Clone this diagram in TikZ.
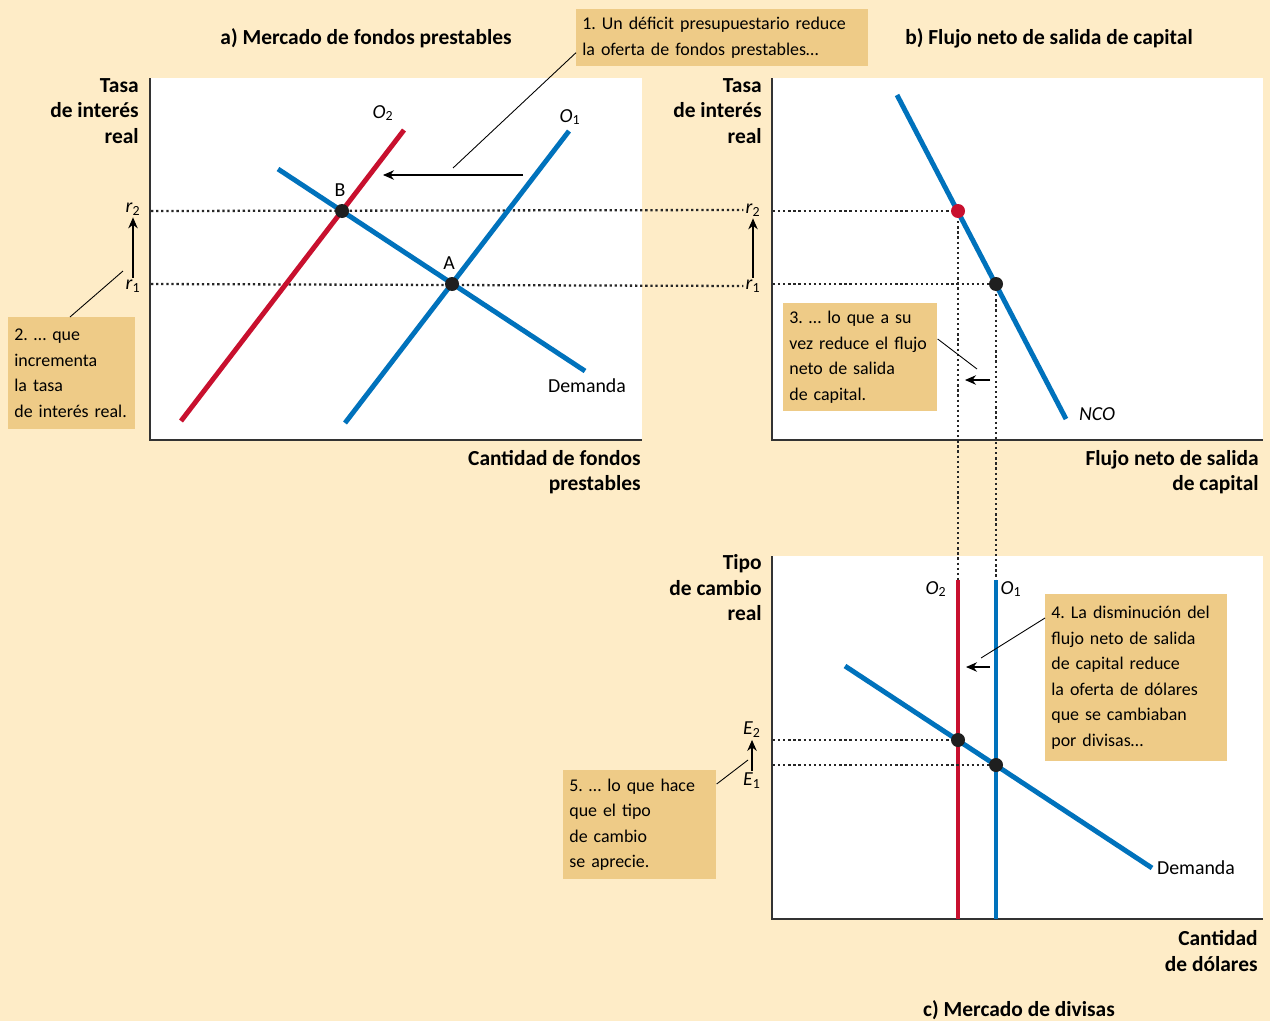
\documentclass[tikz,border=0pt]{standalone}
\usepackage{fontspec}
\setmainfont{Carlito}
\frenchspacing
\usetikzlibrary{arrows.meta,positioning,calc}

\definecolor{bgcream}{RGB}{254,236,199}
\definecolor{boxtan}{RGB}{238,203,135}
\definecolor{nblue}{RGB}{0,114,188}
\definecolor{nred}{RGB}{200,16,46}

\tikzset{
    curveblue/.style={draw=nblue, line width=2.8pt},
    curvered/.style={draw=nred, line width=2.8pt},
    axisline/.style={draw=black!80, line width=0.8pt},
    guide/.style={draw=black!85, line width=1.3pt, dash pattern=on 1.3pt off 1.6pt},
    leader/.style={draw=black, line width=0.5pt},
    shiftarrow/.style={->, draw=black, line width=0.6pt},
    eqdot/.style={circle, fill=black!88, inner sep=0pt, minimum size=0.28cm},
    reddot/.style={circle, fill=nred, inner sep=0pt, minimum size=0.28cm},
    callout/.style={fill=boxtan, anchor=north west, align=left, inner xsep=0.12cm},
    axislabel/.style={font=\fontsize{12.2}{14.5}\selectfont\bfseries, align=right, inner sep=0pt},
    paneltitle/.style={font=\fontsize{12.2}{14.5}\selectfont\bfseries, inner sep=0pt},
    curvelabel/.style={font=\fontsize{11.3}{14}\selectfont, inner sep=1pt}
}

\begin{document}
\begin{tikzpicture}[x=0.02cm, y=-0.02cm, font=\fontsize{10.2}{14.5}\selectfont, >={Stealth[length=2.2mm, width=1.9mm]}]
\useasboundingbox (0,0) rectangle (1270,1021);
\fill[bgcream] (0,0) rectangle (1270,1021);
% Plot areas.
\fill[white] (151,78) rectangle (642,440);
\fill[white] (773,78) rectangle (1263,440);
\fill[white] (773,556) rectangle (1263,919);
\draw[axisline] (150,78) -- (150,440) -- (642,440);
\draw[axisline] (772,78) -- (772,440) -- (1263,440);
\draw[axisline] (772,556) -- (772,919) -- (1263,919);

% Titles and axis labels.
\node[paneltitle] (ta) at (366,38) {a) Mercado de fondos prestables};
\node[paneltitle] (tb) at (1049,38) {b) Flujo neto de salida de capital};
\node[paneltitle] (tc) at (1019,1010) {c) Mercado de divisas};
\node[axislabel, anchor=east] (ya) at (139,111) {Tasa\\de interés\\real};
\node[axislabel, anchor=east] (xa) at (641,472) {Cantidad de fondos\\prestables};
\node[axislabel, anchor=east] (yb) at (762,111) {Tasa\\de interés\\real};
\node[axislabel, anchor=east] (xb) at (1259,472) {Flujo neto de salida\\de capital};
\node[axislabel, anchor=east] (yc) at (762,588) {Tipo\\de cambio\\real};
\node[axislabel, anchor=east] (xc) at (1258,951) {Cantidad\\de dólares};

% Panel a: loanable funds.
\coordinate (O2s) at (181,421);
\coordinate (O2e) at (404,130);
\coordinate (O1s) at (345,423);
\coordinate (O1e) at (569,131);
\coordinate (Ds) at (278,169);
\coordinate (De) at (585,371);
\node[curvelabel] (r2a) at (133,209) {\textit{r}\textsubscript{2}};
\node[curvelabel] (r1a) at (133,286) {\textit{r}\textsubscript{1}};
\node[curvelabel] (r2b) at (753,210) {\textit{r}\textsubscript{2}};
\node[curvelabel] (r1b) at (753,286) {\textit{r}\textsubscript{1}};
\coordinate (ya2) at (151,211);
\coordinate (ya1) at (151,284);
\draw[guide] (ya2) -- (r2b.west);
\draw[guide] (ya1) -- (r1b.west);
\draw[curvered] (O2s) -- (O2e);
\draw[curveblue] (O1s) -- (O1e);
\draw[curveblue] (Ds) -- (De);
\node[eqdot] (B) at (342,211) {};
\node[eqdot] (A) at (452,284) {};
\node[curvelabel] (lB) at (340,190) {B};
\node[curvelabel] (lA) at (449,263) {A};
\node[curvelabel] (lO2a) at (383,113) {\textit{O}\textsubscript{2}};
\node[curvelabel] (lO1a) at (570,117) {\textit{O}\textsubscript{1}};
\node[curvelabel] (lDa) at (587,386) {Demanda};
\coordinate (sa1) at (523,175);
\coordinate (sa2) at (383,175);
\draw[shiftarrow] (sa1) -- (sa2);
\draw[shiftarrow] (r1a.north) -- (r2a.south);

% Panel b: net capital outflow.
\coordinate (Ns) at (897,95);
\coordinate (Ne) at (1066,419);
\coordinate (yb2) at (773,211);
\coordinate (yb1) at (773,284);
\coordinate (O2ct) at (958,580);
\coordinate (O2cb) at (958,919);
\coordinate (O1ct) at (996,580);
\coordinate (O1cb) at (996,919);
\coordinate (P2) at (958,211);
\coordinate (P1) at (996,284);
\draw[guide] (yb2) -- (P2);
\draw[guide] (yb1) -- (P1);
\draw[guide] (P2) -- (O2ct);
\draw[guide] (P1) -- (O1ct);
\draw[curveblue] (Ns) -- (Ne);
\node[reddot] (dP2) at (P2) {};
\node[eqdot] (dP1) at (P1) {};
\node[curvelabel] (lN) at (1097,414) {\textit{NCO}};
\coordinate (sb1) at (990,380);
\coordinate (sb2) at (965,380);
\draw[shiftarrow] (sb1) -- (sb2);
\draw[shiftarrow] (r1b.north) -- (r2b.south);

% Panel c: foreign-currency exchange.
\coordinate (Dcs) at (845,666);
\coordinate (Dce) at (1152,868);
\coordinate (yc2) at (773,740);
\coordinate (yc1) at (773,765);
\node[curvelabel] (E2) at (752,730) {\textit{E}\textsubscript{2}};
\node[curvelabel] (E1) at (752,781) {\textit{E}\textsubscript{1}};
\draw[curvered] (O2ct) -- (O2cb);
\draw[curveblue] (O1ct) -- (O1cb);
\draw[curveblue] (Dcs) -- (Dce);
\node[eqdot] (Q2) at (958,740) {};
\node[eqdot] (Q1) at (996,765) {};
\draw[guide] (yc2) -- (Q2);
\draw[guide] (yc1) -- (Q1);
\node[curvelabel] (lO2c) at (936,589) {\textit{O}\textsubscript{2}};
\node[curvelabel] (lO1c) at (1011,589) {\textit{O}\textsubscript{1}};
\node[curvelabel] (lDc) at (1196,868) {Demanda};
\coordinate (sc1) at (990,667);
\coordinate (sc2) at (966,667);
\draw[shiftarrow] (sc1) -- (sc2);
\draw[shiftarrow] (E1.north) -- (E2.south);

% Callouts.
\node[callout, text width=5.60cm, minimum height=1.14cm] (c1) at (576,9)
    {1. Un déficit presupuestario reduce\\la oferta de fondos prestables\ldots};
\node[callout, text width=2.30cm, minimum height=2.24cm] (c2) at (8,317)
    {2. \ldots\ que\\incrementa\\la tasa\\de interés real.};
\node[callout, text width=2.84cm, minimum height=2.16cm] (c3) at (783,303)
    {3. \ldots\ lo que a su\\vez reduce el flujo\\neto de salida\\de capital.};
\node[callout, text width=3.40cm, minimum height=3.34cm] (c4) at (1045,594)
    {4. La disminución del\\flujo neto de salida\\de capital reduce\\la oferta de dólares\\que se cambiaban\\por divisas\ldots};
\node[callout, text width=2.82cm, minimum height=2.18cm] (c5) at (563,770)
    {5. \ldots\ lo que hace\\que el tipo\\de cambio\\se aprecie.};
\coordinate (l1) at (453,168);
\coordinate (l2) at (123,271);
\coordinate (l3) at (977,369);
\coordinate (l4) at (981,658);
\coordinate (l5) at (748,760);
\draw[leader] ([yshift=0.28cm]c1.south west) -- (l1);
\draw[leader] ([xshift=1.24cm]c2.north west) -- (l2);
\draw[leader] ([yshift=-0.72cm]c3.north east) -- (l3);
\draw[leader] ([yshift=-0.48cm]c4.north west) -- (l4);
\draw[leader] ([yshift=-0.28cm]c5.north east) -- (l5);
\end{tikzpicture}
\end{document}
